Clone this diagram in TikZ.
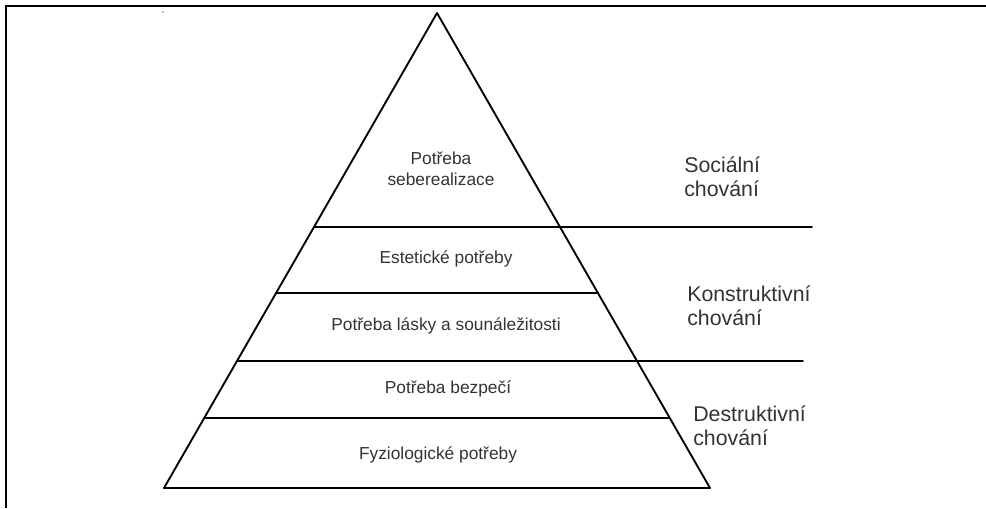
\documentclass[tikz,border=0pt]{standalone}
\usepackage{fontspec}
\setmainfont{Liberation Sans}
\usetikzlibrary{calc}

\tikzset{
  level/.style={font=\fontsize{13}{15.5}\selectfont, text=black!80, align=center, inner sep=0pt},
  side/.style={font=\fontsize{16}{18}\selectfont, text=black!80, align=left, anchor=west, inner sep=0pt},
  edge/.style={line width=1.4pt, line cap=round, line join=round},
}

\begin{document}
\begin{tikzpicture}[x=0.75pt,y=-0.75pt]
	\useasboundingbox (0,0) rectangle (986,508);
	\coordinate (corner) at (6,6);
	\coordinate (topend) at (986,6);
	\coordinate (leftend) at (6,508);
	\draw[line width=1.6pt] (topend) -- (corner) -- (leftend);
	\fill[black!50] (163,12) circle (0.9);

	\coordinate (apex) at (437,13);
	\coordinate (bl) at (164,488);
	\coordinate (br) at (710,488);
	\coordinate (l1) at ($(apex)!0.4505!(bl)$);
	\coordinate (l2) at ($(apex)!0.5895!(bl)$);
	\coordinate (l3) at ($(apex)!0.7326!(bl)$);
	\coordinate (l4) at ($(apex)!0.8526!(bl)$);
	\coordinate (r2) at ($(apex)!0.5895!(br)$);
	\coordinate (r4) at ($(apex)!0.8526!(br)$);
	\coordinate (e1) at (812,227);
	\coordinate (e3) at (803,361);

	\draw[edge] (apex) -- (bl) -- (br) -- cycle;
	\draw[edge] (l1) -- (e1);
	\draw[edge] (l2) -- (r2);
	\draw[edge] (l3) -- (e3);
	\draw[edge] (l4) -- (r4);

	\node[level] (self) at (441,169) {Potřeba\\seberealizace};
	\node[level] (aest) at (446,259) {Estetické potřeby};
	\node[level] (love) at (446,326) {Potřeba lásky a sounáležitosti};
	\node[level] (safe) at (448,389) {Potřeba bezpečí};
	\node[level] (phys) at (438,455) {Fyziologické potřeby};

	\node[side] (social) at (684,177) {Sociální\\chování};
	\node[side] (constr) at (687,306) {Konstruktivní\\chování};
	\node[side] (destr) at (693,426) {Destruktivní\\chování};
\end{tikzpicture}
\end{document}
